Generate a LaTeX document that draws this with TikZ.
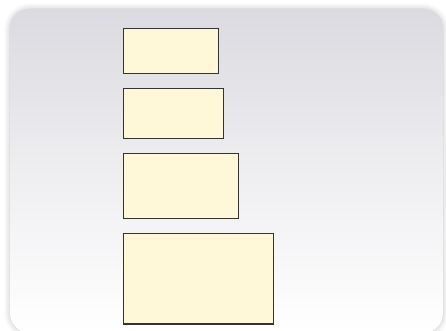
\documentclass[tikz,border=0pt]{standalone}
\usetikzlibrary{shadows.blur}
\definecolor{creme}{RGB}{255,248,216}
\definecolor{borda}{RGB}{51,51,51}
\definecolor{painel}{RGB}{218,218,224}
\tikzset{
    caixa/.style={draw=borda, fill=creme, line width=0.85pt, inner sep=0pt, anchor=north west},
}
\begin{document}
\begin{tikzpicture}
    % área
    \useasboundingbox (0,0) rectangle (8.92,6.6);

    % fundo
    \shade[rounded corners=0.4cm, top color=painel, bottom color=white, middle color=painel!45,
        blur shadow={shadow xshift=0pt, shadow yshift=0pt, shadow blur radius=0.12cm, shadow opacity=25}]
        (0.2,-0.06) rectangle (8.86,6.42);

    % caixas
    \node[caixa, minimum width=1.9cm, minimum height=0.9cm] (c1) at (2.46,6.04) {};
    \node[caixa, minimum width=2.0cm, minimum height=1.0cm] (c2) at (2.46,4.84) {};
    \node[caixa, minimum width=2.3cm, minimum height=1.3cm] (c3) at (2.46,3.54) {};
    \node[caixa, minimum width=3.0cm, minimum height=1.8cm] (c4) at (2.46,1.94) {};
\end{tikzpicture}
\end{document}
